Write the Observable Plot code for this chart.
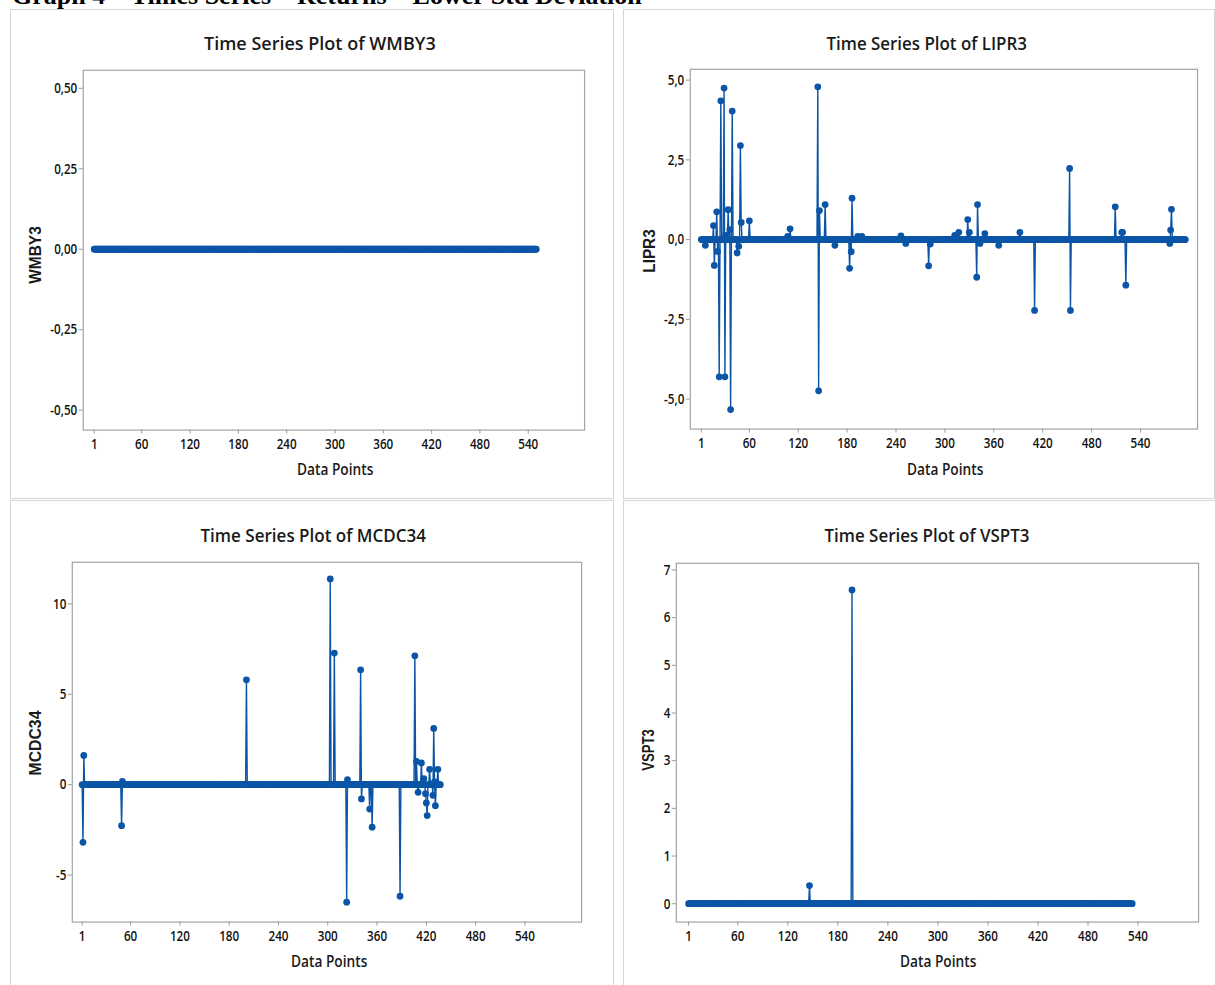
<!DOCTYPE html>
<html>
<head>
<meta charset="utf-8">
<script src="https://cdn.jsdelivr.net/npm/d3@7"></script>
<script src="https://cdn.jsdelivr.net/npm/@observablehq/plot@0.6"></script>
<style>
  body { margin: 0; background: #fff; }
  #page { position: relative; width: 1215px; height: 985px; overflow: hidden; background: #fff; }
  #heading { position: absolute; left: 12px; top: -19px; line-height: 26px; font: bold 26px "Liberation Serif", "Times New Roman", serif; white-space: nowrap; color: #000; }
  .panel { position: absolute; border: 1px solid #d6d6d6; box-sizing: border-box; background: #fff; }
  .panel svg { position: absolute; left: -1px; top: -1px; overflow: visible; }
  .panel svg text { font-weight: 600; }
  .lbl { position: absolute; white-space: nowrap; color: #1a1a1a; line-height: 1; }
  .title { font: 600 18px "Open Sans", sans-serif; }
  .xlab { font: 600 15.5px "Open Sans", sans-serif; }
  .ylab { font: bold 16px "Liberation Sans", Arial, sans-serif; }
</style>
</head>
<body>
<div id="page">
  <div id="heading">Graph 4 – Times Series – Returns – Lower Std Deviation</div>
</div>
<script>
// Series colour and shared x ticks
const BLUE = "#0a55a6";
const xTickValues = [1, 60, 120, 180, 240, 300, 360, 420, 480, 540];

// WMBY3: every observation is zero
const wmbyCount = 550;
const wmbySpikeIndex = [];
const wmbySpikeValue = [];
const wmbyTicks = [-0.5, -0.25, 0, 0.25, 0.5];

// LIPR3: non-zero returns (observation number, value)
const liprCount = 595;
const liprSpikeIndex = [6, 16, 17, 20, 21, 23, 25, 29, 30, 31, 34, 36, 37, 39, 45, 47, 49, 50, 60, 107,
  110, 144, 145, 146, 153, 165, 183, 185, 186, 193, 198, 246, 252, 280, 282, 312, 317, 328, 330, 339,
  340, 343, 349, 366, 392, 410, 453, 454, 509, 517, 518, 522, 576, 577, 578];
const liprSpikeValue = [-0.18, 0.44, -0.81, 0.87, -0.37, -4.3, 4.35, 4.75, -4.3, 0.13, 0.94, 0.31, -5.33, 4.03, -0.42, -0.21, 2.95, 0.54, 0.59, 0.1,
  0.34, 4.79, -4.74, 0.91, 1.1, -0.18, -0.9, -0.38, 1.3, 0.1, 0.1, 0.12, -0.12, -0.82, -0.14, 0.13, 0.23, 0.63, 0.23, -1.18,
  1.1, -0.12, 0.19, -0.18, 0.23, -2.22, 2.23, -2.22, 1.03, 0.23, 0.23, -1.43, -0.12, 0.3, 0.95];
const liprTicks = [-5, -2.5, 0, 2.5, 5];

// MCDC34: non-zero returns (observation number, value)
const mcdcCount = 437;
const mcdcSpikeIndex = [2, 3, 49, 50, 201, 303, 308, 323, 324, 340, 341, 351, 354, 388, 406, 408, 410, 414, 417, 419,
  420, 421, 424, 428, 429, 430, 431, 434];
const mcdcSpikeValue = [-3.19, 1.62, -2.27, 0.18, 5.8, 11.38, 7.28, -6.5, 0.28, 6.35, -0.79, -1.35, -2.35, -6.17, 7.13, 1.29, -0.42, 1.2, 0.33, -0.5,
  -1.01, -1.71, 0.85, -0.59, 3.11, 0.15, -1.16, 0.85];
const mcdcTicks = [-5, 0, 5, 10];

// VSPT3: non-zero returns (observation number, value)
const vsptCount = 533;
const vsptSpikeIndex = [146, 197];
const vsptSpikeValue = [0.38, 6.58];
const vsptTicks = [0, 1, 2, 3, 4, 5, 6, 7];

const comma = (digits) => (v) => v.toFixed(digits).replace(".", ",");

function series(count, idx, val) {
  const byIndex = new Map(idx.map((k, i) => [k, val[i]]));
  return d3.range(1, count + 1).map((k) => ({obs: k, value: byIndex.get(k) ?? 0}));
}

const page = document.getElementById("page");

function label(parent, text, cls, cx, cy, target, rotate) {
  const el = document.createElement("div");
  el.className = "lbl " + cls;
  el.textContent = text;
  parent.appendChild(el);
  const w = el.offsetWidth, h = el.offsetHeight;
  const s = target / w;
  el.style.left = (cx - w / 2) + "px";
  el.style.top = (cy - h / 2) + "px";
  el.style.transform = rotate ? `rotate(-90deg) scaleX(${s})` : `scaleX(${s})`;
  el.style.transformOrigin = "50% 50%";
}

function panel(cfg) {
  const box = document.createElement("div");
  box.className = "panel";
  Object.assign(box.style, {left: cfg.left + "px", top: cfg.top + "px", width: cfg.width + "px", height: cfg.height + "px"});
  page.appendChild(box);

  const data = series(cfg.count, cfg.idx, cfg.val);
  const chart = Plot.plot({
    width: cfg.width,
    height: cfg.height,
    marginLeft: cfg.m[0], marginRight: cfg.m[1], marginTop: cfg.m[2], marginBottom: cfg.m[3],
    style: {fontFamily: "'Open Sans', sans-serif", fontSize: "15px", background: "transparent", color: "#111"},
    x: {domain: cfg.xDomain},
    y: {domain: cfg.yDomain},
    marks: [
      Plot.frame({stroke: "#a3a3a3", strokeWidth: 1.2}),
      Plot.axisX(xTickValues, {tickSize: 4, tickPadding: 4, stroke: "#9a9a9a", fill: "#111", label: null}),
      Plot.axisY(cfg.ticks, {tickSize: 4, tickPadding: 2, stroke: "#9a9a9a", fill: "#111", tickFormat: cfg.fmt, label: null}),
      Plot.line(data, {x: "obs", y: "value", stroke: BLUE, strokeWidth: 1.4}),
      Plot.dot(data, {x: "obs", y: "value", r: 3.4, fill: BLUE, stroke: "none"})
    ]
  });
  box.appendChild(chart);
  // condensed tick lettering
  chart.querySelectorAll("text").forEach((t) => {
    const w = t.getComputedTextLength();
    if (w > 0) {
      t.setAttribute("textLength", (w * 0.78).toFixed(2));
      t.setAttribute("lengthAdjust", "spacingAndGlyphs");
    }
  });

  label(box, cfg.title, "title", cfg.titlePos[0], cfg.titlePos[1], cfg.titleW, false);
  label(box, "Data Points", "xlab", cfg.xlabPos[0], cfg.xlabPos[1], 76, false);
  label(box, cfg.name, "ylab", cfg.ylabPos[0], cfg.ylabPos[1], cfg.ylabW, true);
}

panel({
  left: 10, top: 9, width: 604, height: 490, m: [73, 28, 61, 68],
  xDomain: [-12.6, 610], yDomain: [-0.562, 0.556],
  count: wmbyCount, idx: wmbySpikeIndex, val: wmbySpikeValue, ticks: wmbyTicks, fmt: comma(2),
  name: "WMBY3", title: "Time Series Plot of WMBY3", titleW: 232,
  titlePos: [309, 33], xlabPos: [324, 459], ylabPos: [25, 245], ylabW: 58
});

panel({
  left: 623, top: 9, width: 592, height: 490, m: [67, 16, 60, 69],
  xDomain: [-12.5, 610], yDomain: [-5.94, 5.34],
  count: liprCount, idx: liprSpikeIndex, val: liprSpikeValue, ticks: liprTicks, fmt: comma(1),
  name: "LIPR3", title: "Time Series Plot of LIPR3", titleW: 200,
  titlePos: [302, 33], xlabPos: [321, 459], ylabPos: [25, 241], ylabW: 43
});

panel({
  left: 10, top: 500, width: 604, height: 495, m: [62, 31, 62, 72],
  xDomain: [-11, 609], yDomain: [-7.6, 12.3],
  count: mcdcCount, idx: mcdcSpikeIndex, val: mcdcSpikeValue, ticks: mcdcTicks, fmt: (v) => String(v),
  name: "MCDC34", title: "Time Series Plot of MCDC34", titleW: 226,
  titlePos: [302, 34], xlabPos: [318, 460], ylabPos: [25, 242], ylabW: 65
});

panel({
  left: 623, top: 500, width: 600, height: 495, m: [53, 23, 63, 72],
  xDomain: [-13.7, 612.6], yDomain: [-0.385, 7.14],
  count: vsptCount, idx: vsptSpikeIndex, val: vsptSpikeValue, ticks: vsptTicks, fmt: (v) => String(v),
  name: "VSPT3", title: "Time Series Plot of VSPT3", titleW: 205,
  titlePos: [303, 34], xlabPos: [314, 460], ylabPos: [25, 249], ylabW: 42
});
</script>
</body>
</html>
